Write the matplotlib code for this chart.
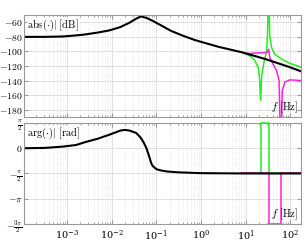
import numpy as np
import matplotlib
matplotlib.use('Agg')
import matplotlib.pyplot as plt
from matplotlib.ticker import FuncFormatter, LogLocator

plt.rcParams['mathtext.fontset'] = 'cm'
plt.rcParams['font.family'] = 'serif'
plt.rcParams['axes.formatter.use_mathtext'] = True

# black curve, magnitude
f_mag = [1.1e-4, 3.2e-4, 8e-4, 1.6e-3, 2.5e-3, 5e-3, 9.1e-3, 0.0158, 0.0251, 0.0355,
         0.0457, 0.0603, 0.0832, 0.126, 0.214, 0.398, 0.741, 2.45, 8.51, 27.5, 91.2, 174]
mag_black = [-80, -80, -79.5, -78, -76.8, -74, -71, -66.5, -60.6, -55,
             -52, -54, -58, -64, -71.8, -78.5, -84.5, -93.6, -101.4, -110.4, -121, -127.3]

# black curve, phase
f_ph = [1.1e-4, 3.2e-4, 8e-4, 1.6e-3, 2.5e-3, 5e-3, 9.1e-3, 0.0158, 0.02, 0.0251,
        0.0355, 0.0447, 0.0525, 0.0603, 0.0692, 0.0776, 0.0832, 0.1, 0.126, 0.178,
        0.316, 1.0, 10.0, 174]
ph_black = [0.0, 0.02, 0.1, 0.2, 0.37, 0.6, 0.85, 1.1, 1.14, 1.1,
            0.95, 0.66, 0.35, 0.0, -0.5, -0.95, -1.1, -1.3, -1.38, -1.45,
            -1.5, -1.55, -1.57, -1.57]

# green curve
f_green = [8.51, 12.3, 15.8, 19.1, 20.4, 21.7, 22.9, 25.7, 29.5, 30.9, 32.9,
           34.7, 38.0, 44.7, 63.1, 97.7, 174]
mag_green = [-101.4, -105.9, -111.8, -121.8, -135.5, -167, -133, -115, -99, -76, -20,
             -78.6, -94.5, -103.6, -110.4, -116.4, -121.5]
f_green_ph = [8.51, 21.7, 21.7, 32.9, 32.9, 174]
ph_green = [-np.pi / 2, -np.pi / 2, np.pi / 2, np.pi / 2, -np.pi / 2, -np.pi / 2]

# magenta curve
f_mag2 = [8.51, 12.3, 14.5, 20.4, 26.9, 30.9, 32.9, 34.7, 40.7, 49.0, 56.2,
          61.2, 66.1, 75.9, 97.7, 174]
mag_magenta = [-101.4, -103, -102.3, -102, -101.8, -101, -97, -108, -117, -126, -140,
               -250, -153.6, -142, -139, -140]
f_mag2_ph = [8.51, 32.9, 32.9, 61.2, 61.2, 174]
ph_magenta = [-np.pi / 2, -np.pi / 2, -3 * np.pi / 2, -3 * np.pi / 2, -np.pi / 2, -np.pi / 2]

mag_ticks = [-60, -80, -100, -120, -140, -160, -180]
ph_ticks = [np.pi / 2, 0, -np.pi / 2, -np.pi, -3 * np.pi / 2]
ph_labels = [r'$\frac{\pi}{2}$', r'$0$', r'$-\frac{\pi}{2}$', r'$-\pi$', r'$-\frac{3\pi}{2}$']

fig = plt.figure(figsize=(3.05, 2.44), dpi=100)
ax1 = fig.add_axes([0.079, 0.5205, 0.908, 0.418])
ax2 = fig.add_axes([0.079, 0.082, 0.908, 0.414], sharex=ax1)

green = '#22ee22'
magenta = '#ff22dd'

ax1.plot(f_green, mag_green, color=green, lw=1.1)
ax1.plot(f_mag2, mag_magenta, color=magenta, lw=1.1)
ax1.plot(f_mag, mag_black, color='black', lw=1.5)

ax2.plot(f_green_ph, ph_green, color=green, lw=1.1, clip_on=False)
ax2.plot(f_mag2_ph, ph_magenta, color=magenta, lw=1.1, clip_on=False)
ax2.plot(f_ph, ph_black, color='black', lw=1.5)

ax1.set_xscale('log')
ax1.set_xlim(1.1e-4, 174)
ax1.set_ylim(-190, -50)
ax1.set_yticks(mag_ticks)
ax1.yaxis.set_major_formatter(FuncFormatter(lambda v, p: r'$%d$' % v))
ax2.set_ylim(-3 * np.pi / 2, np.pi / 2)
ax2.set_yticks(ph_ticks)
ax2.set_yticklabels(ph_labels)

for ax in (ax1, ax2):
    ax.xaxis.set_major_locator(LogLocator(base=10, numticks=20))
    ax.xaxis.set_minor_locator(LogLocator(base=10, subs=np.arange(2, 10), numticks=20))
    ax.grid(True, which='major', color='#dcdcdc', lw=0.6)
    ax.grid(True, which='minor', axis='x', color='#dcdcdc', lw=0.5, ls=':')
    ax.tick_params(which='both', direction='in', top=True, right=True,
                   color='#999999', labelsize=7, pad=1)
    ax.tick_params(which='major', length=3)
    ax.tick_params(which='minor', length=1.5)
    for s in ax.spines.values():
        s.set_color('#999999')
        s.set_linewidth(0.8)
    ax.set_axisbelow(True)
ax1.tick_params(axis='x', labelbottom=False)
ax2.tick_params(axis='x', pad=3)

box = dict(facecolor='white', edgecolor='none', alpha=0.8, pad=0.5)
ax1.text(0.012, 0.97, r'$\mathrm{abs}(\cdot)|\ [\mathrm{dB}]$', transform=ax1.transAxes,
         ha='left', va='top', fontsize=7.5, bbox=box)
ax2.text(0.012, 0.97, r'$\mathrm{arg}(\cdot)|\ [\mathrm{rad}]$', transform=ax2.transAxes,
         ha='left', va='top', fontsize=7.5, bbox=box)
ax1.text(0.99, 0.02, r'$f\ [\mathrm{Hz}]$', transform=ax1.transAxes,
         ha='right', va='bottom', fontsize=7.5)
ax2.text(0.99, 0.02, r'$f\ [\mathrm{Hz}]$', transform=ax2.transAxes,
         ha='right', va='bottom', fontsize=7.5)

fig.savefig('out.png', dpi=100)
